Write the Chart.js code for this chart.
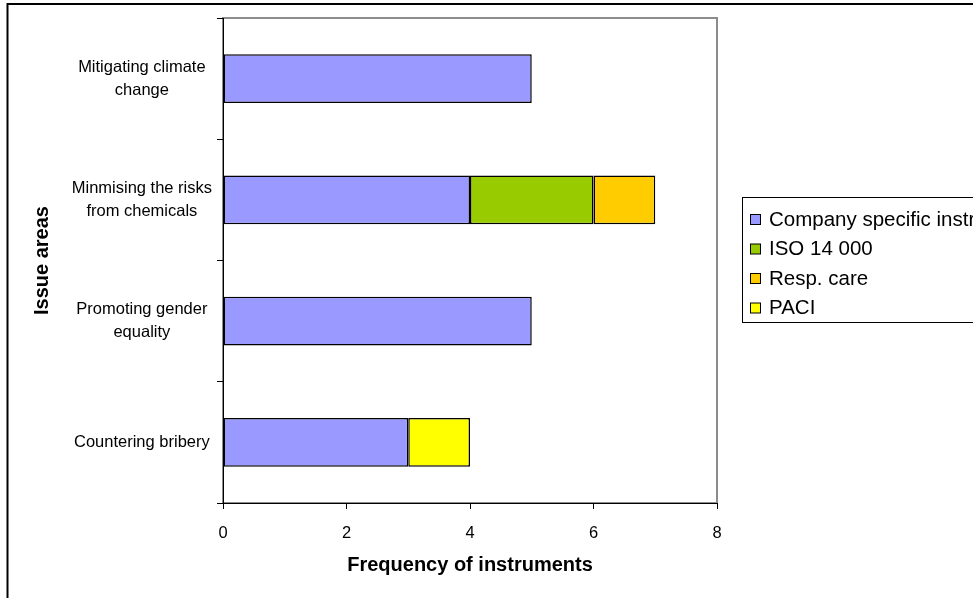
<!DOCTYPE html>
<html>
<head>
<meta charset="utf-8">
<script src="https://cdn.jsdelivr.net/npm/chart.js@4/dist/chart.umd.min.js"></script>
<style>
    html, body { margin: 0; padding: 0; background: #fff; }
    #wrap { width: 973px; height: 598px; position: relative; }
</style>
</head>
<body>
<div id="wrap"><canvas id="issue-chart"></canvas></div>
<script>
const black = "#000000";
const frame_grey = "#8c8c8c";

// data
const categories = [
    ['Mitigating climate', 'change'],
    ['Minmising the risks', 'from chemicals'],
    ['Promoting gender', 'equality'],
    ['Countering bribery'],
];
const company_specific = [5, 4, 5, 3];
const iso_14000 = [null, 2, null, null];
const resp_care = [null, 1, null, null];
const paci = [null, null, null, 1];

const series_names = ['Company specific instruments', 'ISO 14 000', 'Resp. care', 'PACI'];
const series_colors = ['#9999FF', '#99CC00', '#FFCC00', '#FFFF00'];
const series_values = [company_specific, iso_14000, resp_care, paci];

//outer frame + grey plot frame, drawn before the axes so left/bottom stay black
const frame_plugin = {
    id: 'frames',
    beforeDraw(chart) {
        const ctx = chart.ctx;
        const area = chart.chartArea;
        ctx.save();
        ctx.strokeStyle = black;
        ctx.lineWidth = 2;
        ctx.strokeRect(7.5, 4, 2000, 2000);
        ctx.strokeStyle = frame_grey;
        ctx.lineWidth = 2;
        ctx.strokeRect(area.left, area.top, area.right - area.left, area.bottom - area.top);
        ctx.restore();
    }
};

//boxed legend on the right, runs off the canvas edge like the original
const boxed_legend = {
    id: 'boxedLegend',
    afterDraw(chart) {
        const ctx = chart.ctx;
        const left = 742.5, top = 197.5;
        ctx.save();
        ctx.strokeStyle = black;
        ctx.lineWidth = 1;
        ctx.strokeRect(left, top, 400, 125);
        ctx.font = '20.5px "Liberation Sans", Arial, sans-serif';
        ctx.textBaseline = 'middle';
        chart.data.datasets.forEach((ds, i) => {
            const y = 219 + i * 29.5;
            ctx.fillStyle = ds.backgroundColor;
            ctx.fillRect(750.5, y - 4.5, 10, 10);
            ctx.strokeRect(750.5, y - 4.5, 10, 10);
            ctx.fillStyle = black;
            ctx.fillText(ds.label, 769, y + 1);
        });
        ctx.restore();
    }
};

function issue_chart(ctx) {
    new Chart(ctx, {
        type: 'bar',
        data: {
            labels: categories,
            datasets: series_names.map((name, i) => ({
                label: name,
                data: series_values[i],
                backgroundColor: series_colors[i],
                borderColor: black,
                borderWidth: 1.5,
                borderSkipped: false,
                barPercentage: 0.404,
                categoryPercentage: 1,
            }))
        },
        options: {
            indexAxis: 'y',
            responsive: true,
            maintainAspectRatio: false,
            animation: false,
            layout: {
                padding: { left: 9, top: 18, right: 256, bottom: 0 }
            },
            plugins: {
                legend: { display: false },
                tooltip: { enabled: false },
            },
            scales: {
                x: {
                    stacked: true,
                    min: 0,
                    max: 8,
                    ticks: {
                        stepSize: 2,
                        color: black,
                        padding: 15,
                        font: { family: '"Liberation Sans", Arial', size: 16.5 }
                    },
                    grid: {
                        drawOnChartArea: false,
                        tickLength: 6,
                        tickColor: black,
                    },
                    border: { color: black, width: 1 },
                    title: {
                        display: true,
                        text: 'Frequency of instruments',
                        color: black,
                        padding: { top: 0, bottom: 21 },
                        font: { family: '"Liberation Sans", Arial', size: 20, weight: 'bold' }
                    },
                    afterFit(scale) {
                        scale.height = 95;
                    }
                },
                y: {
                    stacked: true,
                    offset: true,
                    ticks: {
                        color: black,
                        padding: 5,
                        crossAlign: 'center',
                        font: { family: '"Liberation Sans", Arial', size: 16.5, lineHeight: 1.4 }
                    },
                    grid: {
                        offset: true,
                        drawOnChartArea: false,
                        tickLength: 6,
                        tickColor: black,
                    },
                    border: { color: black, width: 1 },
                    title: {
                        display: true,
                        text: 'Issue areas',
                        color: black,
                        padding: { top: 21, bottom: 0 },
                        font: { family: '"Liberation Sans", Arial', size: 20, weight: 'bold' }
                    },
                    afterFit(scale) {
                        scale.width = 214;
                    }
                }
            }
        },
        plugins: [frame_plugin, boxed_legend]
    });
}

const chart_canvas = document.getElementById('issue-chart');
if (chart_canvas) {
    issue_chart(chart_canvas);
}
</script>
</body>
</html>
